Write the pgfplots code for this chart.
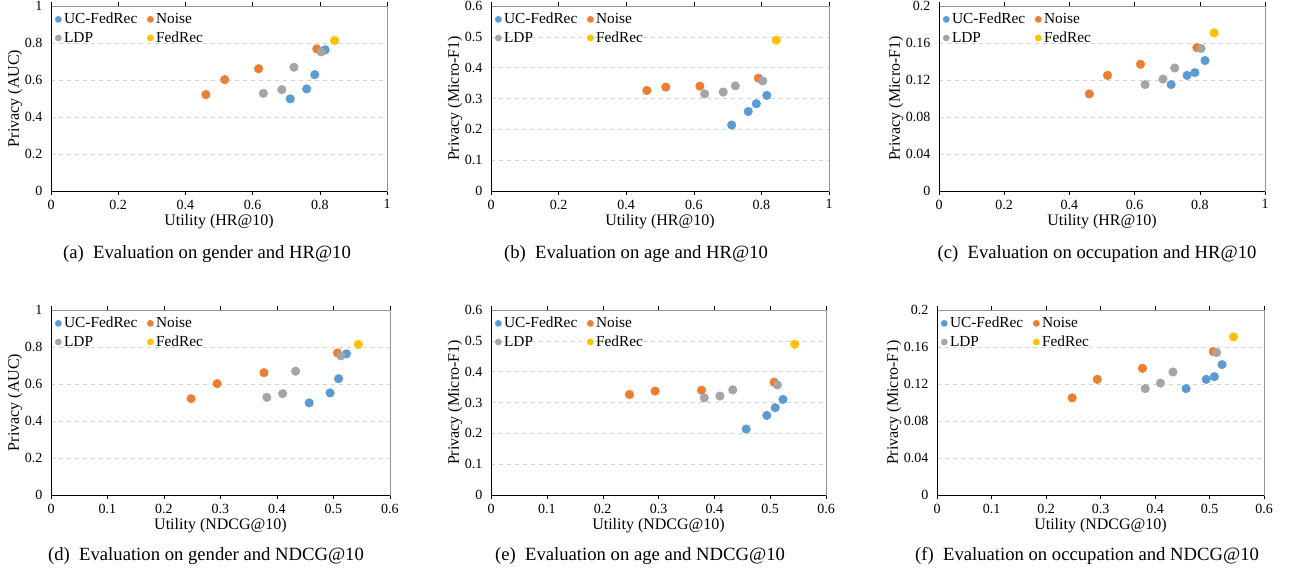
\documentclass[border=0pt]{standalone}
\usepackage{fontspec}
\setmainfont{Liberation Serif}
\usepackage{pgfplots}
\usepackage{pgfplotstable}
\pgfplotsset{compat=1.18}

\definecolor{cUC}{RGB}{91,155,213}
\definecolor{cNoise}{RGB}{237,125,49}
\definecolor{cLDP}{RGB}{165,165,165}
\definecolor{cFed}{RGB}{255,192,0}
\definecolor{frame}{RGB}{150,150,150}

% columns: HR@10, NDCG@10, AUC (gender), Micro-F1 (age), Micro-F1 (occupation)
\pgfplotstableread{
hr    ndcg  auc   age   occ
0.712 0.457 0.498 0.214 0.115
0.761 0.494 0.552 0.258 0.125
0.785 0.509 0.629 0.283 0.128
0.816 0.523 0.763 0.310 0.141
}\ucdata
\pgfplotstableread{
hr    ndcg  auc   age   occ
0.461 0.248 0.521 0.326 0.105
0.517 0.294 0.602 0.337 0.125
0.618 0.377 0.661 0.340 0.137
0.791 0.507 0.768 0.366 0.155
}\noisedata
\pgfplotstableread{
hr    ndcg  auc   age   occ
0.632 0.382 0.528 0.315 0.115
0.687 0.410 0.548 0.321 0.121
0.723 0.433 0.669 0.341 0.133
0.804 0.513 0.752 0.357 0.154
}\ldpdata
\pgfplotstableread{
hr    ndcg  auc   age   occ
0.844 0.544 0.814 0.489 0.171
}\feddata

\pgfplotsset{
  panel/.style={
    scale only axis, height=138.75pt, anchor=north west,
    xmin=0, ymin=0,
    axis line style={frame},
    tick align=outside,
    major tick length=3pt,
    ytick style={draw=none},
    xtick style={black},
    ymajorgrids, grid style={dashed, gray!35},
    tick label style={font=\fontsize{10.5}{12}\selectfont},
    label style={font=\fontsize{12}{14}\selectfont},
    /pgf/number format/assume math mode=true,
    /pgf/number format/fixed,
    xlabel style={yshift=3pt},
    ylabel style={yshift=-5pt},
    legend columns=2,
    legend cell align=left,
    legend style={draw=none, fill=none, at={(0.008,0.985)}, anchor=north west,
      font=\fontsize{11.5}{13}\selectfont, row sep=0.5pt, inner sep=1pt,
      /tikz/every even column/.append style={column sep=5.5pt}},
    legend image code/.code={\draw[#1, mark size=2.3pt] plot coordinates {(0.1cm,0cm)};},
    every axis plot/.append style={only marks, mark=*, mark size=3.2pt},
    extra description/.code={
      \draw[black, line width=0.5pt] (rel axis cs:0,1) -- (rel axis cs:0,0) -- (rel axis cs:1,0);
    },
  },
  hrx/.style={xmax=1, xtick={0,0.2,0.4,0.6,0.8,1}, xlabel={Utility (HR@10)}},
  ndx/.style={xmax=0.6, xtick={0,0.1,0.2,0.3,0.4,0.5,0.6}, xlabel={Utility (NDCG@10)}},
  aucy/.style={ymax=1, ytick={0,0.2,0.4,0.6,0.8,1}, ylabel={Privacy (AUC)}},
  agey/.style={ymax=0.6, ytick={0,0.1,0.2,0.3,0.4,0.5,0.6}, ylabel={Privacy (Micro-F1)}},
  occy/.style={ymax=0.2, ytick={0,0.04,0.08,0.12,0.16,0.2}, ylabel={Privacy (Micro-F1)}},
}

\newcommand{\fourseries}[2]{%
  \addplot[color=cUC] table[x=#1, y=#2] {\ucdata};
  \addplot[color=cNoise] table[x=#1, y=#2] {\noisedata};
  \addplot[color=cLDP] table[x=#1, y=#2] {\ldpdata};
  \addplot[color=cFed] table[x=#1, y=#2] {\feddata};
  \legend{UC-FedRec, Noise, LDP, FedRec}
}

\begin{document}
\begin{tikzpicture}
\useasboundingbox (0,0) rectangle (966.75pt,-432pt);

\begin{axis}[panel, hrx, aucy, at={(38.25pt,-4.5pt)}, width=252pt]
\fourseries{hr}{auc}
\end{axis}
\begin{axis}[panel, hrx, agey, at={(368.25pt,-4.5pt)}, width=253.5pt]
\fourseries{hr}{age}
\end{axis}
\begin{axis}[panel, hrx, occy, at={(704.25pt,-4.5pt)}, width=244.5pt]
\fourseries{hr}{occ}
\end{axis}

\begin{axis}[panel, ndx, aucy, at={(38.25pt,-232.5pt)}, width=254.25pt]
\fourseries{ndcg}{auc}
\end{axis}
\begin{axis}[panel, ndx, agey, at={(368.25pt,-232.5pt)}, width=251.25pt]
\fourseries{ndcg}{age}
\end{axis}
\begin{axis}[panel, ndx, occy, at={(702.75pt,-232.5pt)}, width=245.25pt]
\fourseries{ndcg}{occ}
\end{axis}

\begin{scope}[font=\fontsize{14}{16}\selectfont]
\node at (155.25pt,-190.5pt) {(a)\enspace Evaluation on gender and HR@10};
\node at (477pt,-190.5pt) {(b)\enspace Evaluation on age and HR@10};
\node at (822.75pt,-190.5pt) {(c)\enspace Evaluation on occupation and HR@10};
\node at (154.5pt,-417pt) {(d)\enspace Evaluation on gender and NDCG@10};
\node at (480pt,-417pt) {(e)\enspace Evaluation on age and NDCG@10};
\node at (815.25pt,-417pt) {(f)\enspace Evaluation on occupation and NDCG@10};
\end{scope}
\end{tikzpicture}
\end{document}
